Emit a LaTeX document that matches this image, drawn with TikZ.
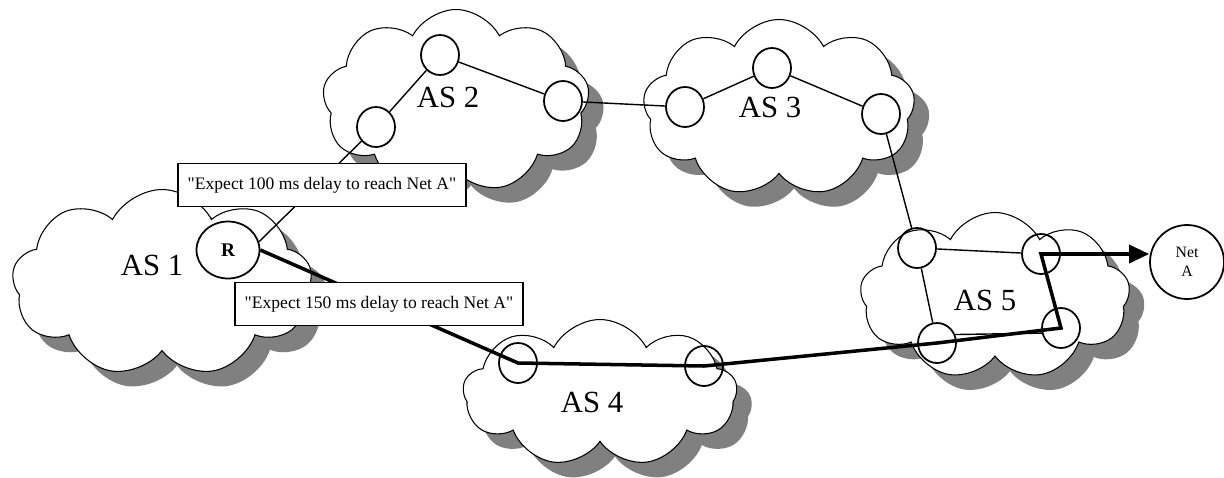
\documentclass[tikz,border=0pt]{standalone}
\usepackage{fontspec}
\setmainfont{Liberation Serif}
\usetikzlibrary{shapes.symbols,shapes.geometric,shadows,arrows.meta}

\begin{document}
\begin{tikzpicture}[x=0.02cm,y=-0.02cm]
    \tikzstyle{asbox}=[cloud,cloud puffs=9,cloud puff arc=125,cloud ignores aspect,draw=black,line width=0.6pt,fill=white,inner sep=0pt,
        drop shadow={shadow xshift=0.3cm,shadow yshift=-0.3cm,fill=black!50,opacity=1}]
    \tikzstyle{aslabel}=[font=\fontsize{17.5}{20}\selectfont]
    \tikzstyle{router}=[ellipse,draw=black,line width=1pt,minimum width=0.76cm,minimum height=0.8cm,inner sep=0pt]
    \tikzstyle{msg}=[draw=black,line width=0.9pt,fill=white,minimum width=5.76cm,minimum height=0.86cm,inner sep=0pt,font=\fontsize{10}{12}\selectfont]
    \tikzstyle{link}=[line width=0.8pt]
    \tikzstyle{route}=[line width=2pt,line join=miter]

    \useasboundingbox (0,0) rectangle (1224,477);

    \node[asbox,minimum width=6.0cm,minimum height=3.74cm] (as1) at (162,283) {};
    \node[asbox,minimum width=5.34cm,minimum height=3.66cm] (as2) at (456,101) {};
    \node[asbox,minimum width=5.44cm,minimum height=3.54cm] (as3) at (779,108) {};
    \node[asbox,minimum width=5.48cm,minimum height=2.94cm] (as4) at (600,393) {};
    \node[asbox,minimum width=5.4cm,minimum height=3.34cm] (as5) at (995,296) {};

    \node[aslabel] (as1label) at (152,265) {AS 1};
    \node[aslabel] (as2label) at (448,97) {AS 2};
    \node[aslabel] (as3label) at (770,107) {AS 3};
    \node[aslabel] (as4label) at (592,402) {AS 4};
    \node[aslabel] (as5label) at (985,300) {AS 5};

    \node[router,minimum width=1.26cm,minimum height=1.14cm,font=\fontsize{11}{13}\selectfont\bfseries] (R) at (228,250) {R};
    \node[router] (as2a) at (376,127) {};
    \node[router] (as2b) at (440,55) {};
    \node[router] (as2c) at (563,101) {};
    \node[router] (as3a) at (685,107) {};
    \node[router] (as3b) at (772,68) {};
    \node[router] (as3c) at (881,114) {};
    \node[router] (as4a) at (518,363) {};
    \node[router] (as4b) at (704,366) {};
    \node[router] (as5tl) at (917,248) {};
    \node[router] (as5tr) at (1041,254) {};
    \node[router] (as5bl) at (937,343) {};
    \node[router] (as5br) at (1061,328) {};
    \node[ellipse,draw=black,line width=1pt,minimum width=1.48cm,minimum height=1.48cm,inner sep=0pt,align=center,font=\fontsize{9}{11}\selectfont] (neta) at (1187,262) {Net\\A};

    \draw[link] (R.15) -- (as2a);
    \draw[link] (as2a) -- (as2b);
    \draw[link] (as2b) -- (as2c);
    \draw[link] (as2c) -- (as3a);
    \draw[link] (as3a) -- (as3b);
    \draw[link] (as3b) -- (as3c);
    \draw[link] (as3c) -- (as5tl);
    \draw[link] (as5tl) -- (as5tr);
    \draw[link] (as5tl) -- (as5bl);
    \draw[link] (as5bl.25) -- (as5br.195);

    \draw[route,-{Triangle[length=0.4cm,width=0.36cm]}] (R.east) -- (as4a.center) -- (as4b.center) -- (as5bl.center) -- (as5br.center) -- (as5tr.center) -- (as5tr.center -| neta.west);

    \node[msg] (msg100) at (322,185) {\textquotedbl Expect 100 ms delay to reach Net A\textquotedbl};
    \node[msg] (msg150) at (379,304) {\textquotedbl Expect 150 ms delay to reach Net A\textquotedbl};
\end{tikzpicture}
\end{document}
